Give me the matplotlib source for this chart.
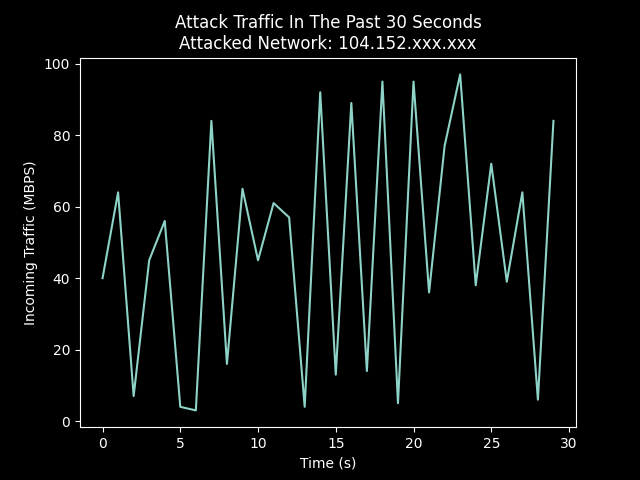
import matplotlib
matplotlib.use("Agg")
import matplotlib.pyplot as plt

plt.style.use("dark_background")

seconds = list(range(30))
traffic = [40, 64, 7, 45, 56, 4, 3, 84, 16, 65, 45, 61, 57, 4, 92, 13, 89, 14, 95, 5,
           95, 36, 77, 97, 38, 72, 39, 64, 6, 84]

fig, ax = plt.subplots(figsize=(6.4, 4.8), dpi=100)
ax.plot(seconds, traffic)
ax.set_title("Attack Traffic In The Past 30 Seconds\nAttacked Network: 104.152.xxx.xxx")
ax.set_xlabel("Time (s)")
ax.set_ylabel("Incoming Traffic (MBPS)")
fig.savefig("out.png")
